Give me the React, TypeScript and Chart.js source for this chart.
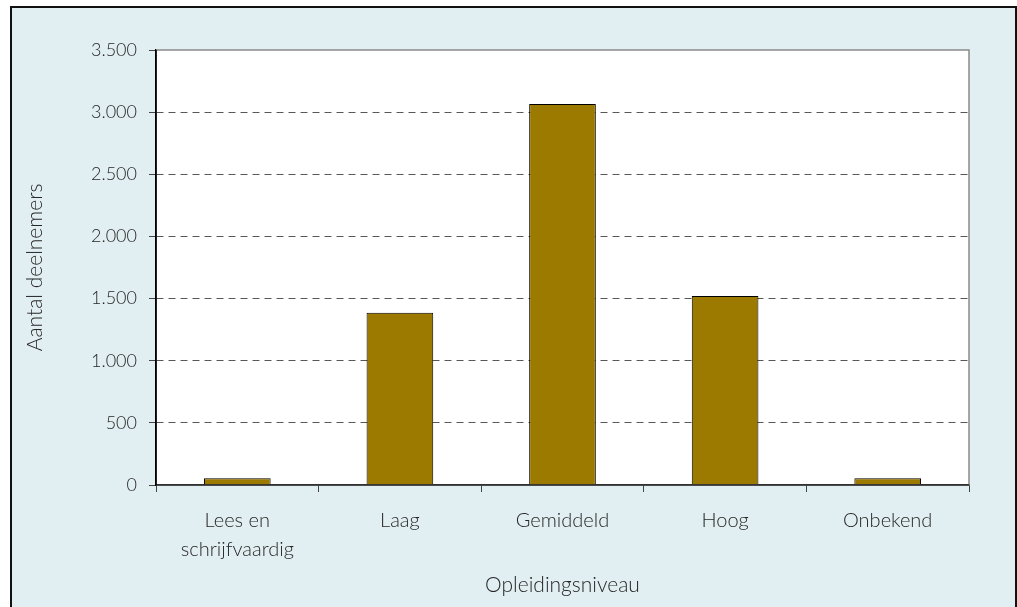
import React, { useEffect, useRef } from "react";
import { Chart, registerables } from "chart.js";

Chart.register(...registerables);

const categories: (string | string[])[] = [
  ["Lees en", "schrijfvaardig"],
  "Laag",
  "Gemiddeld",
  "Hoog",
  "Onbekend",
];
const participants: number[] = [55, 1385, 3065, 1520, 55];
const yMin = 0;
const yMax = 3500;
const yStep = 500;
const yTitle = "Aantal deelnemers";
const xTitle = "Opleidingsniveau";

const FONT = "Lato, 'Open Sans', sans-serif";
const TEXT = "#262626";

function fmt(v: number): string {
  return String(Math.round(v)).replace(/\B(?=(\d{3})+(?!\d))/g, ".");
}

const framePlugin = {
  id: "frame",
  beforeDraw(chart: any) {
    const { ctx, chartArea: a } = chart;
    ctx.save();
    ctx.fillStyle = "#ffffff";
    ctx.fillRect(a.left, a.top, a.right - a.left, a.bottom - a.top);
    ctx.restore();
  },
  afterDraw(chart: any) {
    const { ctx, chartArea: a } = chart;
    ctx.save();
    ctx.setLineDash([]);
    ctx.strokeStyle = "#8a8a8a";
    ctx.lineWidth = 1.5;
    ctx.beginPath();
    ctx.moveTo(a.left, a.top);
    ctx.lineTo(a.right, a.top);
    ctx.lineTo(a.right, a.bottom);
    ctx.stroke();
    ctx.strokeStyle = "#333";
    ctx.beginPath();
    ctx.moveTo(a.left, a.bottom);
    ctx.lineTo(a.right, a.bottom);
    ctx.stroke();
    ctx.strokeStyle = "#000";
    ctx.beginPath();
    ctx.moveTo(a.left, a.top);
    ctx.lineTo(a.left, a.bottom);
    ctx.stroke();
    ctx.restore();
  },
};

export default function App() {
  const ref = useRef<HTMLCanvasElement | null>(null);

  useEffect(() => {
    if (!ref.current) return;
    const chart = new Chart(ref.current, {
      type: "bar",
      data: {
        labels: categories,
        datasets: [
          {
            data: participants,
            backgroundColor: "#9c7a00",
            borderColor: "#000000",
            borderWidth: 1,
            barPercentage: 0.41,
            categoryPercentage: 1,
          },
        ],
      },
      plugins: [framePlugin],
      options: {
        animation: false,
        responsive: false,
        maintainAspectRatio: false,
        layout: { padding: { left: 0, top: 50, right: 48, bottom: 0 } },
        plugins: {
          legend: { display: false },
          tooltip: { enabled: false },
        },
        scales: {
          x: {
            afterFit(scale: any) {
              scale.height = 122;
            },
            grid: {
              display: true,
              drawOnChartArea: false,
              drawTicks: true,
              tickLength: 7,
              offset: true,
              color: "#444",
              tickColor: "#444",
            },
            border: { display: true, color: "#333", width: 1.5 },
            ticks: {
              color: TEXT,
              font: { family: FONT, size: 20, weight: "300", lineHeight: 1.45 },
              padding: 14,
              maxRotation: 0,
              autoSkip: false,
            },
            title: {
              display: true,
              text: xTitle,
              color: TEXT,
              font: { family: FONT, size: 21, weight: "300", lineHeight: 1.2 },
              padding: { top: 0, bottom: 9 },
            },
          },
          y: {
            min: yMin,
            max: yMax,
            afterFit(scale: any) {
              scale.width = 156;
            },
            ticks: {
              stepSize: yStep,
              color: TEXT,
              font: { family: FONT, size: 18, weight: "300" },
              padding: 12,
              callback: (v: any) => fmt(Number(v)),
            },
            grid: {
              color: (c: any) =>
                c.tick && (c.tick.value === yMin || c.tick.value === yMax)
                  ? "rgba(0,0,0,0)"
                  : "#585858",
              lineWidth: 1,
              drawTicks: true,
              tickLength: 7,
              tickColor: "#444",
              tickBorderDash: [],
            },
            border: { display: true, color: "#000", width: 1.5, dash: [7, 5] },
            title: {
              display: true,
              text: yTitle,
              color: TEXT,
              font: { family: FONT, size: 21, weight: "300", lineHeight: 1.2 },
              padding: { top: 23, bottom: 0 },
            },
          },
        },
      },
    });
    return () => chart.destroy();
  }, []);

  return (
    <div
      style={{
        position: "fixed",
        left: 0,
        top: 0,
        width: 1017,
        height: 607,
        background: "#ffffff",
        overflow: "hidden",
      }}
    >
      <div
        style={{
          position: "absolute",
          left: 10,
          top: 6,
          width: 1007,
          height: 640,
          boxSizing: "border-box",
          border: "2px solid #111",
          background: "#e1eef2",
        }}
      />
      <canvas
        ref={ref}
        width={1017}
        height={607}
        style={{ position: "absolute", left: 0, top: 0, width: 1017, height: 607 }}
      />
    </div>
  );
}
